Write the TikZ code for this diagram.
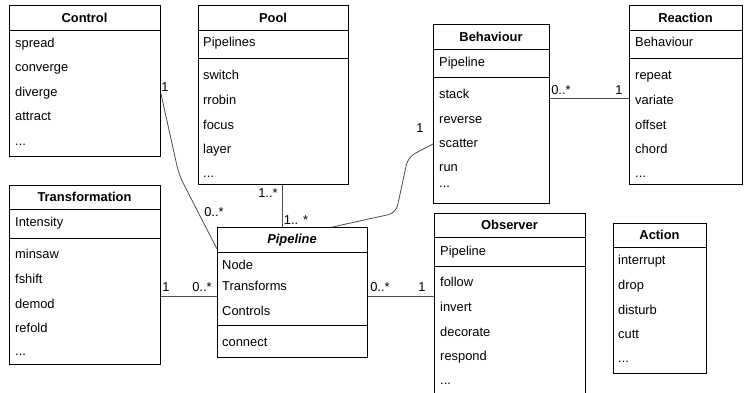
\documentclass[tikz,border=0pt]{standalone}
\usepackage{fontspec}
\setmainfont{Liberation Sans}

\tikzset{
  classbox/.style={draw, line width=0.8pt, inner sep=0, anchor=north west},
  classname/.style={font=\bfseries},
  member/.style={anchor=west, inner sep=0, text height=9.5pt, text depth=3pt},
  mult/.style={inner sep=0},
  assoc/.style={draw=black!70, line width=0.8pt}
}
\newcommand\etc{...}

\begin{document}
\fontsize{12.9}{15}\selectfont
\begin{tikzpicture}[x=1pt, y=-1pt]

\useasboundingbox (0,0) rectangle (744,392);

% Control
\node[classbox, minimum width=151pt, minimum height=151pt] (ctl) at (9,5) {};
\node[classname] (ctl-t) at (84.5,17.5) {Control};
\draw ([yshift=-25pt]ctl.north west) -- ([yshift=-25pt]ctl.north east);
\foreach \m/\y [count=\i] in {spread/44,converge/68.5,diverge/93,attract/117.5,\etc/142}
  \node[member] (ctl-\i) at (15,\y) {\m};

% Pool
\node[classbox, minimum width=150pt, minimum height=179pt] (pool) at (198,5) {};
\node[classname] (pool-t) at (273,17.5) {Pool};
\draw ([yshift=-25pt]pool.north west) -- ([yshift=-25pt]pool.north east);
\draw ([yshift=-53pt]pool.north west) -- ([yshift=-53pt]pool.north east);
\node[member] (pool-a) at (203,43) {Pipelines};
\foreach \m/\y [count=\i] in {switch/76,rrobin/101,focus/126,layer/150,\etc/174}
  \node[member] (pool-\i) at (203,\y) {\m};

% Behaviour
\node[classbox, minimum width=116pt, minimum height=179pt] (beh) at (433,24) {};
\node[classname] (beh-t) at (491,37) {Behaviour};
\draw ([yshift=-25pt]beh.north west) -- ([yshift=-25pt]beh.north east);
\draw ([yshift=-53pt]beh.north west) -- ([yshift=-53pt]beh.north east);
\node[member] (beh-a) at (439,63) {Pipeline};
\foreach \m/\y [count=\i] in {stack/95,reverse/120,scatter/144,run/168,\etc/184}
  \node[member] (beh-\i) at (439,\y) {\m};

% Reaction
\node[classbox, minimum width=113pt, minimum height=179pt] (rea) at (629,5) {};
\node[classname] (rea-t) at (685.5,17.5) {Reaction};
\draw ([yshift=-25pt]rea.north west) -- ([yshift=-25pt]rea.north east);
\draw ([yshift=-53pt]rea.north west) -- ([yshift=-53pt]rea.north east);
\node[member] (rea-a) at (635,43) {Behaviour};
\foreach \m/\y [count=\i] in {repeat/76,variate/101,offset/126,chord/150,\etc/174}
  \node[member] (rea-\i) at (635,\y) {\m};

% Transformation
\node[classbox, minimum width=151pt, minimum height=179pt] (trf) at (9,185) {};
\node[classname] (trf-t) at (84.5,197) {Transformation};
\draw ([yshift=-24pt]trf.north west) -- ([yshift=-24pt]trf.north east);
\draw ([yshift=-53pt]trf.north west) -- ([yshift=-53pt]trf.north east);
\node[member] (trf-a) at (15,223) {Intensity};
\foreach \m/\y [count=\i] in {minsaw/255,fshift/280,demod/305,refold/329,\etc/352}
  \node[member] (trf-\i) at (15,\y) {\m};

% Pipeline
\node[classbox, minimum width=150pt, minimum height=130pt] (pip) at (217,227) {};
\node[classname] (pip-t) at (292,240) {\itshape Pipeline};
\draw ([yshift=-25pt]pip.north west) -- ([yshift=-25pt]pip.north east);
\draw ([yshift=-98pt]pip.north west) -- ([yshift=-98pt]pip.north east);
\foreach \m/\y [count=\i] in {Node/266,Transforms/287,Controls/312}
  \node[member] (pip-\i) at (222,\y) {\m};
\node[member] (pip-m) at (222,343) {connect};

% Observer
\node[classbox, minimum width=151pt, minimum height=190pt] (obs) at (434,213) {};
\node[classname] (obs-t) at (509.5,225) {Observer};
\draw ([yshift=-24pt]obs.north west) -- ([yshift=-24pt]obs.north east);
\draw ([yshift=-53pt]obs.north west) -- ([yshift=-53pt]obs.north east);
\node[member] (obs-a) at (440,252) {Pipeline};
\foreach \m/\y [count=\i] in {follow/283,invert/308,decorate/333,respond/357,\etc/381}
  \node[member] (obs-\i) at (440,\y) {\m};

% Action
\node[classbox, minimum width=93pt, minimum height=150pt] (act) at (613,223) {};
\node[classname] (act-t) at (659.5,235) {Action};
\draw ([yshift=-24pt]act.north west) -- ([yshift=-24pt]act.north east);
\foreach \m/\y [count=\i] in {interrupt/261,drop/286,disturb/311,cutt/335,\etc/359}
  \node[member] (act-\i) at (618,\y) {\m};

% associations
\coordinate (c1) at (179,175);
\draw[assoc, rounded corners=10pt] (ctl-3 -| ctl.east) -- (c1) -- ([yshift=-22pt]pip.north west);
\draw[assoc] ([xshift=9pt]pool.south) -- ([xshift=9pt]pool.south |- pip.north);
\coordinate (b1) at (408,157);
\coordinate (b2) at (396,213);
\draw[assoc, rounded corners=8pt] (beh-3 -| beh.west) -- (b1) -- (b2) -- ([xshift=40pt]pip.north);
\coordinate (br) at ([yshift=-74pt]beh.north east);
\draw[assoc] (br) -- (br -| rea.west);
\coordinate (pl) at ([yshift=-69pt]pip.north west);
\draw[assoc] (pl -| trf.east) -- (pl);
\coordinate (pr) at ([yshift=-69pt]pip.north east);
\draw[assoc] (pr) -- (pr -| obs.west);

\node[mult] (m1) at (165,87) {1};
\node[mult] (m2) at (214,212) {0..*};
\node[mult] (m3) at (268,193) {1..*};
\node[mult] (m4) at (296,220) {1.. *};
\node[mult] (m5) at (420,128) {1};
\node[mult] (m6) at (561,90) {0..*};
\node[mult] (m7) at (619,90) {1};
\node[mult] (m8) at (166,287) {1};
\node[mult] (m9) at (202,287) {0..*};
\node[mult] (m10) at (380,287) {0..*};
\node[mult] (m11) at (422,287) {1};

\end{tikzpicture}
\end{document}
